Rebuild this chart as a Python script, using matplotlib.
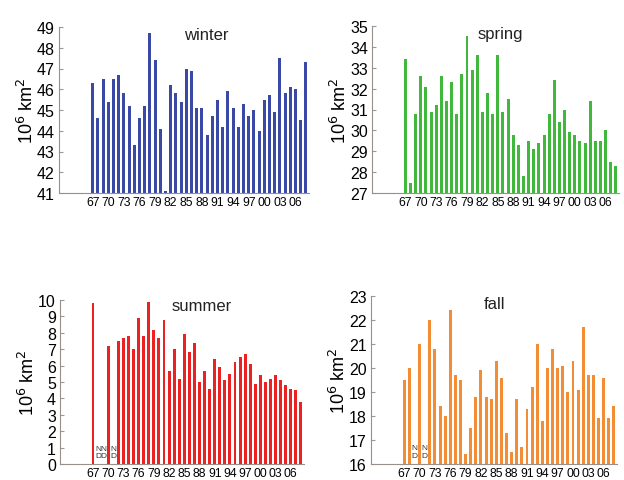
import numpy as np
import matplotlib
matplotlib.use("Agg")
import matplotlib.pyplot as plt
from matplotlib import font_manager

# seasonal extent, 1967-2008; None = no data
years = list(range(1967, 2009))

winter = [46.3, 44.6, 46.5, 45.4, 46.5, 46.7, 45.8, 45.2, 43.3, 44.6,
          45.2, 48.7, 47.4, 44.1, 41.1, 46.2, 45.8, 45.4, 47.0, 46.9,
          45.1, 45.1, 43.8, 44.7, 45.5, 44.2, 45.9, 45.1, 44.2, 45.3,
          44.7, 45.0, 44.0, 45.5, 45.7, 44.9, 47.5, 45.8, 46.1, 46.0,
          44.5, 47.3]

spring = [33.4, 27.5, 30.8, 32.6, 32.1, 30.9, 31.2, 32.6, 31.4, 32.3,
          30.8, 32.7, 34.5, 32.9, 33.6, 30.9, 31.8, 30.8, 33.6, 30.9,
          31.5, 29.8, 29.3, 27.8, 29.5, 29.1, 29.4, 29.8, 30.8, 32.4,
          30.4, 31.0, 29.9, 29.8, 29.5, 29.4, 31.4, 29.5, 29.5, 30.0,
          28.5, 28.3]

summer = [9.8, None, None, 7.2, None, 7.5, 7.7, 7.8, 7.0, 8.9,
          7.8, 9.9, 8.2, 7.7, 8.8, 5.7, 7.0, 5.2, 7.9, 6.8,
          7.4, 5.0, 5.7, 4.6, 6.4, 5.9, 5.1, 5.5, 6.2, 6.5,
          6.7, 6.1, 4.9, 5.4, 5.0, 5.2, 5.4, 5.1, 4.8, 4.6,
          4.5, 3.8]

fall = [19.5, 20.0, None, 21.0, None, 22.0, 20.8, 18.4, 18.0, 22.4,
        19.7, 19.5, 16.4, 17.5, 18.8, 19.9, 18.8, 18.7, 20.3, 19.6,
        17.3, 16.5, 18.7, 16.7, 18.3, 19.2, 21.0, 17.8, 20.0, 20.8,
        20.0, 20.1, 19.0, 20.3, 19.1, 21.7, 19.7, 19.7, 17.9, 19.6,
        17.9, 18.4]

tick_years = list(range(1967, 2009, 3))
tick_labels = ["%02d" % (y % 100) for y in tick_years]

names = {f.name for f in font_manager.fontManager.ttflist}
narrow = "Liberation Sans Narrow" if "Liberation Sans Narrow" in names else "Liberation Sans"
plt.rcParams["font.family"] = ["Liberation Sans", "DejaVu Sans"]

W, H = 624, 481
fig = plt.figure(figsize=(W / 100, H / 100), dpi=100)
fig.patch.set_facecolor("white")

# (name, data, colour, ylim, axes box in pixels: left, right, top, bottom, title pos)
panels = [
    ("winter", winter, "#3a48a6", (41, 49), (59, 309, 28, 194), (0.59, 0.955)),
    ("spring", spring, "#3fb83c", (27, 35), (372, 619, 27, 194), (0.52, 0.955)),
    ("summer", summer, "#ec2222", (0, 10), (60, 304, 301, 465), (0.58, 0.965)),
    ("fall",   fall,   "#f28c35", (16, 23), (371, 617, 297, 465), (0.50, 0.955)),
]

for name, vals, col, ylim, box, tpos in panels:
    l, r, t, b = box
    ax = fig.add_axes([l / W, 1 - b / H, (r - l) / W, (b - t) / H])
    yrs = np.array([y for y, v in zip(years, vals) if v is not None])
    v = np.array([v for v in vals if v is not None])
    ax.bar(yrs, v - ylim[0], bottom=ylim[0], width=0.58, color=col,
           edgecolor="none")
    # mark missing years
    for y, val in zip(years, vals):
        if val is None:
            span = ylim[1] - ylim[0]
            ax.text(y, ylim[0] + 0.03 * span, "N\nD", ha="center",
                    va="bottom", fontsize=6, color="#333333",
                    linespacing=1.1)
    ax.set_xlim(1960.5, 2008.6)
    ax.set_ylim(*ylim)
    ax.set_yticks(range(ylim[0], ylim[1] + 1))
    ax.set_xticks(tick_years)
    ax.set_xticklabels(tick_labels, family=[narrow, "DejaVu Sans"],
                       fontsize=8.8)
    ax.tick_params(axis="x", length=0, pad=2)
    ax.tick_params(axis="y", direction="in", length=3, labelsize=11.5,
                   pad=3, color="#999999")
    for s in ("top", "right"):
        ax.spines[s].set_visible(False)
    for s in ("left", "bottom"):
        ax.spines[s].set_color("#9a8f8a")
        ax.spines[s].set_linewidth(0.8)
    ax.set_ylabel("10$^6$ km$^2$", fontsize=13, labelpad=0)
    ax.text(tpos[0], tpos[1], name, transform=ax.transAxes, ha="center",
            va="center", fontsize=12, color="#222222")

fig.savefig("out.png", dpi=100)
